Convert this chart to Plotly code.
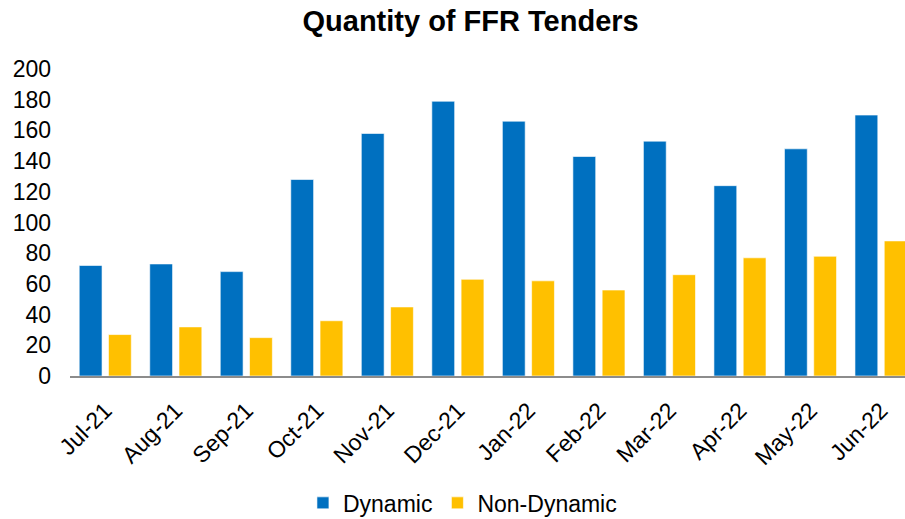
import plotly.graph_objects as go

months = ["Jul-21", "Aug-21", "Sep-21", "Oct-21", "Nov-21", "Dec-21",
          "Jan-22", "Feb-22", "Mar-22", "Apr-22", "May-22", "Jun-22"]
dynamic = [72, 73, 68, 128, 158, 179, 166, 143, 153, 124, 148, 170]
non_dynamic = [27, 32, 25, 36, 45, 63, 62, 56, 66, 77, 78, 88]
y_ticks = [0, 20, 40, 60, 80, 100, 120, 140, 160, 180, 200]

FONT = "Liberation Sans, Arial, sans-serif"

fig = go.Figure()
fig.add_trace(go.Bar(name="Dynamic", x=months, y=dynamic,
                     marker=dict(color="#0070C0", line=dict(color="rgba(255,255,255,0.6)", width=1))))
fig.add_trace(go.Bar(name="Non-Dynamic", x=months, y=non_dynamic,
                     marker=dict(color="#FFC000", line=dict(color="rgba(255,255,255,0.6)", width=1))))

fig.update_layout(
    width=905, height=519,
    paper_bgcolor="white", plot_bgcolor="white",
    barmode="group", bargap=0.17, bargroupgap=0.22,
    margin=dict(l=70, r=0, t=69, b=143),
    font=dict(family=FONT, size=23, color="#000000"),
    title=dict(text="<b>Quantity of FFR Tenders</b>", x=0.52, xref="container",
               xanchor="center", y=0.96, yanchor="middle",
               font=dict(family=FONT, size=29, color="#000000")),
    showlegend=True,
    legend=dict(orientation="h", x=0.47, xanchor="center", xref="paper",
                y=0.031, yanchor="middle", yref="container",
                font=dict(family=FONT, size=23, color="#000000"), traceorder="normal",
                itemwidth=30),
    xaxis=dict(type="category", range=[-0.5, 11.34], showgrid=False, automargin=False,
               showline=True, linecolor="#8C8C8C", linewidth=2,
               ticks="outside", ticklen=10, tickcolor="rgba(0,0,0,0)",
               tickangle=-45, tickfont=dict(family=FONT, size=23, color="#000000")),
    yaxis=dict(range=[0, 200], tickvals=y_ticks, showgrid=False, showline=False,
               zeroline=False, ticks="", ticklabelstandoff=18, automargin=False,
               tickfont=dict(family=FONT, size=23, color="#000000")),
)

fig.write_html("out.html", config={"displayModeBar": False},
               post_script="document.body.style.margin='0';")
